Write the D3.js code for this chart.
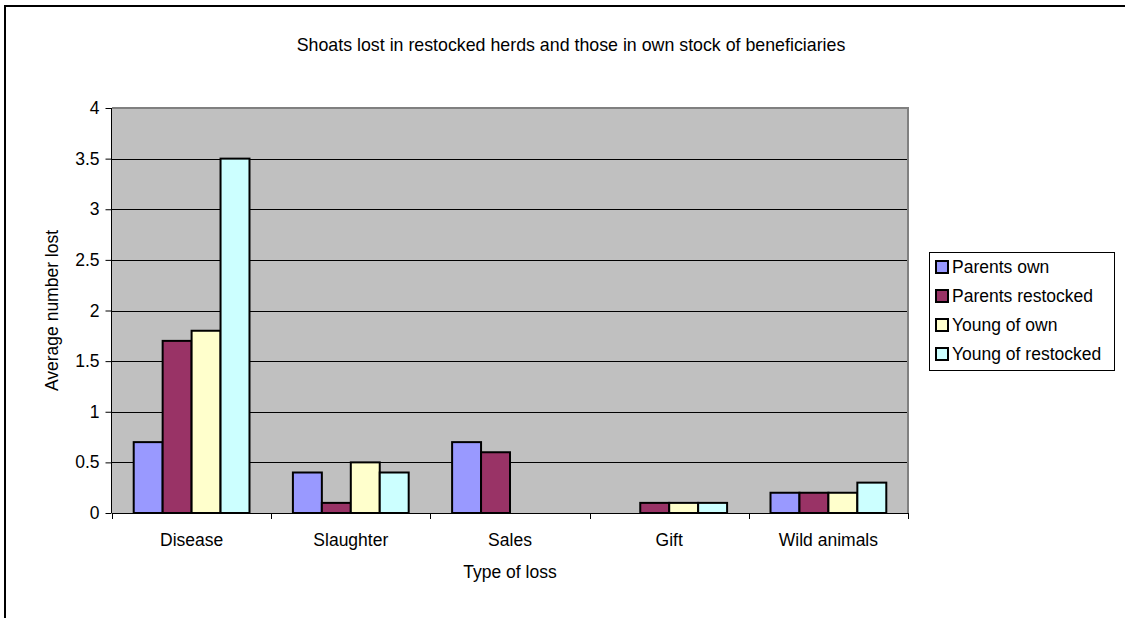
<!DOCTYPE html>
<html>
<head>
<meta charset="utf-8">
<script src="https://cdn.jsdelivr.net/npm/d3@7"></script>
<style>
  html, body { margin: 0; padding: 0; background: #fff; }
  svg { display: block; font-family: "Liberation Sans", Arial, sans-serif; }
</style>
</head>
<body>
<svg id="chart" width="1125" height="618"></svg>
<script>
const title = "Shoats lost in restocked herds and those in own stock of beneficiaries";
const categories = ["Disease", "Slaughter", "Sales", "Gift", "Wild animals"];
const seriesNames = ["Parents own", "Parents restocked", "Young of own", "Young of restocked"];
const seriesColors = ["#9999FF", "#993366", "#FFFFCC", "#CCFFFF"];
const parentsOwn = [0.7, 0.4, 0.7, 0, 0.2];
const parentsRestocked = [1.7, 0.1, 0.6, 0.1, 0.2];
const youngOwn = [1.8, 0.5, 0, 0.1, 0.2];
const youngRestocked = [3.5, 0.4, 0, 0.1, 0.3];
const yTicks = [0, 0.5, 1, 1.5, 2, 2.5, 3, 3.5, 4];
const yTitle = "Average number lost";
const xTitle = "Type of loss";

const seriesValues = [parentsOwn, parentsRestocked, youngOwn, youngRestocked];

const svg = d3.select("#chart");
const W = 1125, H = 618;
const plot = { left: 112, right: 908, top: 108, bottom: 513 };
const fontSize = 17.5;

// outer chart border (extends beyond viewport at right/bottom)
svg.append("rect")
  .attr("x", 5).attr("y", 6)
  .attr("width", W + 20).attr("height", H + 20)
  .attr("fill", "#fff").attr("stroke", "#000").attr("stroke-width", 2);

// title
svg.append("text")
  .attr("x", 571).attr("y", 51)
  .attr("text-anchor", "middle")
  .attr("font-size", 17.8)
  .attr("fill", "#000")
  .text(title);

const x0 = d3.scaleBand().domain(categories).range([plot.left, plot.right]).padding(0);
const bw = x0.bandwidth();
const gap = bw * 1.5 / 5.5;
const x1 = d3.scaleBand().domain(seriesNames).range([gap / 2, bw - gap / 2]).padding(0);
const y = d3.scaleLinear().domain([0, 4]).range([plot.bottom, plot.top]);

// plot background
svg.append("rect")
  .attr("x", plot.left).attr("y", plot.top)
  .attr("width", plot.right - plot.left).attr("height", plot.bottom - plot.top)
  .attr("fill", "#C0C0C0");

// gridlines
svg.append("g")
  .selectAll("line")
  .data(yTicks.filter(d => d > 0 && d < 4))
  .join("line")
  .attr("x1", plot.left).attr("x2", plot.right)
  .attr("y1", d => Math.round(y(d)) + 0.5).attr("y2", d => Math.round(y(d)) + 0.5)
  .attr("stroke", "#000").attr("stroke-width", 1);

// plot border (top and right gray)
svg.append("path")
  .attr("d", `M${plot.left},${plot.top}H${plot.right}V${plot.bottom}`)
  .attr("fill", "none").attr("stroke", "#808080").attr("stroke-width", 2);

// bars
const rows = [];
categories.forEach((c, i) => {
  seriesNames.forEach((s, j) => {
    rows.push({ cat: c, series: s, value: seriesValues[j][i], color: seriesColors[j] });
  });
});
svg.append("g")
  .selectAll("rect")
  .data(rows.filter(d => d.value > 0))
  .join("rect")
  .attr("x", d => x0(d.cat) + x1(d.series))
  .attr("y", d => y(d.value))
  .attr("width", x1.bandwidth())
  .attr("height", d => y(0) - y(d.value))
  .attr("fill", d => d.color)
  .attr("stroke", "#000")
  .attr("stroke-width", 2);

// y axis
const yAxis = d3.axisLeft(y).tickValues(yTicks).tickSize(6).tickPadding(6)
  .tickFormat(d => String(d));
const gy = svg.append("g")
  .attr("transform", `translate(${plot.left - 0.5},0)`)
  .call(yAxis);
gy.select(".domain").attr("stroke", "#000").attr("d", `M0,${plot.top}V${plot.bottom}`);
gy.selectAll(".tick line").attr("stroke", "#000");
gy.selectAll("text").attr("font-size", fontSize).attr("fill", "#000")
  .attr("font-family", "'Liberation Sans', Arial, sans-serif");

// x axis
const xAxis = d3.axisBottom(x0).tickSize(0).tickPadding(20);
const gx = svg.append("g")
  .attr("transform", `translate(0,${plot.bottom + 0.5})`)
  .call(xAxis);
gx.select(".domain").attr("stroke", "#000").attr("d", `M${plot.left},0H${plot.right}`);
gx.selectAll("text").attr("font-size", fontSize).attr("fill", "#000")
  .attr("font-family", "'Liberation Sans', Arial, sans-serif");
// category boundary ticks
const boundaries = categories.map(c => x0(c)).concat([plot.right]);
svg.append("g")
  .selectAll("line")
  .data(boundaries)
  .join("line")
  .attr("x1", d => Math.round(d) + 0.5).attr("x2", d => Math.round(d) + 0.5)
  .attr("y1", plot.bottom).attr("y2", plot.bottom + 6)
  .attr("stroke", "#000");

// axis titles
svg.append("text")
  .attr("transform", `translate(58,${(plot.top + plot.bottom) / 2}) rotate(-90)`)
  .attr("text-anchor", "middle")
  .attr("font-size", fontSize)
  .text(yTitle);
svg.append("text")
  .attr("x", (plot.left + plot.right) / 2).attr("y", 578)
  .attr("text-anchor", "middle")
  .attr("font-size", fontSize)
  .text(xTitle);

// legend
const lg = svg.append("g");
lg.append("rect")
  .attr("x", 929.5).attr("y", 252.5).attr("width", 185).attr("height", 118)
  .attr("fill", "#fff").attr("stroke", "#000").attr("stroke-width", 1);
const ly = d3.scalePoint().domain(seriesNames).range([267, 354]);
seriesNames.forEach((s, j) => {
  lg.append("rect")
    .attr("x", 936).attr("y", ly(s) - 6).attr("width", 12).attr("height", 12)
    .attr("fill", seriesColors[j]).attr("stroke", "#000").attr("stroke-width", 2);
  lg.append("text")
    .attr("x", 952).attr("y", ly(s) + 6)
    .attr("font-size", fontSize)
    .text(s);
});
</script>
</body>
</html>
